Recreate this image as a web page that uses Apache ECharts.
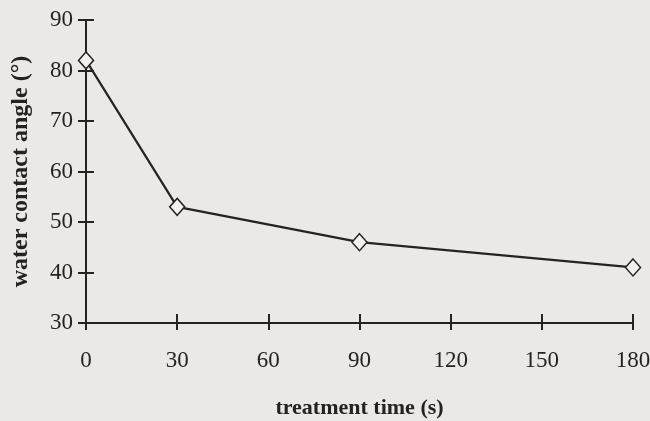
<!DOCTYPE html>
<html>
<head>
<meta charset="utf-8">
<script src="https://cdn.jsdelivr.net/npm/echarts@6/dist/echarts.min.js"></script>
<style>
  html, body { margin: 0; padding: 0; background: #ebe8e6; }
  #chart { width: 650px; height: 421px; }
</style>
</head>
<body>
<div id="chart"></div>
<script>
// treatment time (s) and measured contact angle
var times = [0, 30, 90, 180];
var angles = [82, 53, 46, 41];

var ink = '#252322';
var serif = '"Liberation Serif", "DejaVu Serif", serif';

var data = [];
for (var i = 0; i < times.length; i++) {
    data.push([times[i], angles[i]]);
}

var myChart = echarts.init(document.getElementById('chart'));
var option = {
    backgroundColor: '#ebe8e6',
    animation: false,
    grid: { left: 86, right: 17, top: 20, bottom: 98, outerBoundsMode: 'none', containLabel: false },
    xAxis: [{
        type: 'value',
        min: 0, max: 180, interval: 30,
        name: 'treatment time (s)',
        nameLocation: 'middle',
        nameGap: 74,
        nameTextStyle: { fontFamily: serif, fontWeight: 'bold', fontSize: 22, color: ink },
        axisLine: { lineStyle: { color: ink, width: 2 } },
        axisTick: { length: 7, lineStyle: { color: ink, width: 2 } },
        axisLabel: { fontFamily: serif, fontSize: 23, color: ink, margin: 26 },
        splitLine: { show: false }
    }, {
        type: 'value',
        min: 0, max: 180, interval: 30,
        position: 'bottom',
        axisLine: { show: false },
        axisTick: { inside: true, length: 9, lineStyle: { color: ink, width: 2 } },
        axisLabel: { show: false },
        splitLine: { show: false }
    }],
    yAxis: [{
        type: 'value',
        min: 30, max: 90, interval: 10,
        name: 'water contact angle (°)',
        nameLocation: 'middle',
        nameGap: 53,
        nameRotate: 90,
        nameTextStyle: { fontFamily: serif, fontWeight: 'bold', fontSize: 24, color: ink },
        axisLine: { show: true, lineStyle: { color: ink, width: 2 } },
        axisTick: { show: true, length: 8, lineStyle: { color: ink, width: 2 } },
        axisLabel: { fontFamily: serif, fontSize: 23, color: ink, margin: 13 },
        splitLine: { show: false }
    }, {
        type: 'value',
        min: 30, max: 90, interval: 10,
        position: 'left',
        axisLine: { show: false },
        axisTick: { show: true, inside: true, length: 8, lineStyle: { color: ink, width: 2 } },
        axisLabel: { show: false },
        splitLine: { show: false }
    }],
    series: [{
        type: 'line',
        data: data,
        symbol: 'diamond',
        symbolSize: [15, 17],
        lineStyle: { color: ink, width: 2.2 },
        itemStyle: { color: '#f4f2f0', borderColor: ink, borderWidth: 1.5 }
    }]
};
myChart.setOption(option);
</script>
</body>
</html>
